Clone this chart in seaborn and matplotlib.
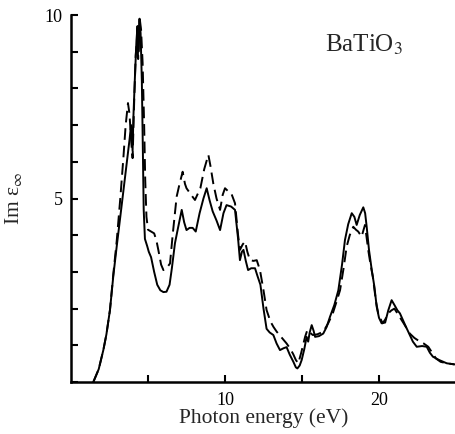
import matplotlib
matplotlib.use("Agg")
import matplotlib.pyplot as plt
import seaborn as sns
import pandas as pd

# solid curve
energy_a = [1.45, 1.8, 2.1, 2.3, 2.53, 2.75, 2.97, 3.2, 3.4, 3.6, 3.8, 3.9, 4.0, 4.05,
            4.15, 4.25, 4.32, 4.38, 4.45, 4.52, 4.6, 4.66, 4.72, 4.8, 4.95, 5.05, 5.2,
            5.4, 5.6, 5.8, 6.0, 6.2, 6.4, 6.55, 6.75, 6.95, 7.19, 7.35, 7.5, 7.7, 7.9,
            8.1, 8.35, 8.6, 8.81, 9.0, 9.2, 9.45, 9.68, 9.9, 10.1, 10.4, 10.65, 10.85,
            10.97, 11.1, 11.2, 11.35, 11.5, 11.7, 11.95, 12.1, 12.3, 12.5, 12.7, 12.9,
            13.14, 13.35, 13.57, 13.8, 14.0, 14.2, 14.44, 14.6, 14.7, 14.85, 14.98,
            15.15, 15.3, 15.4, 15.5, 15.63, 15.75, 15.85, 16.1, 16.38, 16.6, 16.82,
            17.1, 17.36, 17.6, 17.79, 18.0, 18.23, 18.4, 18.55, 18.75, 18.98, 19.1,
            19.2, 19.35, 19.53, 19.7, 19.85, 20.0, 20.17, 20.4, 20.6, 20.82, 21.0,
            21.2, 21.36, 21.7, 22.0, 22.2, 22.45, 22.8, 23.1, 23.3, 23.5, 23.9, 24.4,
            24.9]
im_eps_a = [0.0, 0.35, 0.87, 1.3, 1.96, 2.9, 3.7, 4.5, 5.2, 5.9, 6.6, 7.0, 6.3, 7.2,
            8.3, 9.3, 9.7, 9.0, 9.9, 9.5, 8.2, 6.5, 4.7, 3.9, 3.7, 3.55, 3.4,
            3.0, 2.65, 2.5, 2.45, 2.46, 2.65, 3.1, 3.78, 4.2, 4.69, 4.35, 4.14, 4.2, 4.2,
            4.1, 4.6, 5.0, 5.28, 4.95, 4.65, 4.4, 4.14, 4.6, 4.82, 4.78, 4.69, 3.9,
            3.32, 3.55, 3.6, 3.3, 3.05, 3.1, 3.1, 2.9, 2.65, 2.0, 1.45, 1.35,
            1.28, 1.05, 0.87, 0.92, 0.95, 0.75, 0.55, 0.4, 0.37, 0.45, 0.6,
            0.9, 1.23, 1.1, 1.35, 1.55, 1.4, 1.23, 1.25, 1.32, 1.5, 1.78,
            2.1, 2.5, 3.2, 3.87, 4.3, 4.6, 4.5, 4.28, 4.55, 4.76, 4.6,
            4.23, 3.6, 3.05, 2.6, 2.05, 1.75, 1.6, 1.62, 1.95, 2.23, 2.1,
            1.95, 1.87, 1.55, 1.28, 1.1, 0.96, 0.98, 0.96, 0.8, 0.69, 0.6, 0.51,
            0.48]

# dashed curve
energy_b = [1.45, 1.8, 2.1, 2.3, 2.53, 2.75, 2.97, 3.2, 3.4, 3.55, 3.7, 3.8, 3.9, 4.0,
            4.1, 4.2, 4.3, 4.36, 4.45, 4.55, 4.65, 4.75, 4.82, 4.9, 5.0, 5.2, 5.4,
            5.55, 5.67, 5.85, 6.0, 6.2, 6.43, 6.6, 6.86, 7.05, 7.25, 7.4, 7.5, 7.8,
            8.05, 8.2, 8.4, 8.65, 8.92, 9.05, 9.24, 9.45, 9.68, 9.85, 10.0, 10.2, 10.4,
            10.65, 10.85, 10.97, 11.15, 11.3, 11.45, 11.62, 11.85, 12.06, 12.27, 12.5,
            12.7, 12.95, 13.15, 13.36, 13.7, 14.0, 14.25, 14.44, 14.6, 14.76, 14.95,
            15.2, 15.35, 15.5, 15.7, 16.0, 16.38, 16.7, 17.0, 17.25, 17.47, 17.7, 17.9,
            18.1, 18.33, 18.5, 18.65, 18.87, 19.0, 19.09, 19.3, 19.45, 19.6, 19.8,
            19.95, 20.23, 20.4, 20.6, 20.8, 21.0, 21.3, 21.6, 22.0, 22.3, 22.66, 22.9,
            23.2, 23.45, 23.7, 24.0, 24.4, 24.9]
im_eps_b = [0.0, 0.35, 0.87, 1.3, 1.96, 2.95, 3.85, 5.0, 6.1, 7.0, 7.6, 7.3, 6.6, 6.1,
            7.6, 8.9, 9.4, 8.8, 9.95, 9.6, 8.7, 7.0, 5.5, 4.5, 4.15, 4.1, 4.05,
            3.85, 3.6, 3.2, 3.05, 3.1, 3.23, 4.0, 5.05, 5.4, 5.73, 5.4, 5.28, 5.1,
            4.96, 5.1, 5.28, 5.8, 6.19, 5.9, 5.41, 5.0, 4.69, 5.1, 5.28, 5.2, 5.15,
            4.87, 4.0, 3.6, 3.75, 3.83, 3.55, 3.32, 3.3, 3.32, 3.05, 2.5,
            1.96, 1.65, 1.5, 1.37, 1.2, 1.05, 0.9, 0.75, 0.6, 0.51, 0.8,
            1.23, 1.42, 1.35, 1.28, 1.3, 1.37, 1.6, 1.87, 2.2, 2.5, 3.1, 3.69,
            4.0, 4.23, 4.15, 4.1, 3.96, 4.15, 4.28, 3.6, 3.2, 2.87, 2.2,
            1.87, 1.6, 1.7, 1.87, 1.95, 2.0, 1.8, 1.6, 1.32, 1.2, 1.1, 1.05,
            0.96, 0.8, 0.64, 0.55, 0.51, 0.48]

x_ticks = [5, 10, 15, 20]
x_tick_labels = ["", "10", "", "20"]
y_ticks = list(range(0, 11))
y_tick_labels = ["5" if t == 5 else "10" if t == 10 else "" for t in y_ticks]

df = pd.concat([
    pd.DataFrame({"energy": energy_a, "im_eps": im_eps_a, "kind": "a"}),
    pd.DataFrame({"energy": energy_b, "im_eps": im_eps_b, "kind": "b"}),
], ignore_index=True)

sns.set_style("ticks")
plt.rcParams["font.family"] = ["Liberation Serif", "DejaVu Serif"]
plt.rcParams["mathtext.fontset"] = "stix"

fig = plt.figure(figsize=(4.56, 4.34), dpi=100)
ax = fig.add_axes([0.1557, 0.1198, 0.8443, 0.8456])

sns.lineplot(data=df, x="energy", y="im_eps", style="kind",
             dashes={"a": "", "b": (6, 3)}, color="black", linewidth=1.4,
             estimator=None, sort=False, legend=False, ax=ax)

ax.set_xlim(0, 25)
ax.set_ylim(0, 10)
ax.set_xticks(x_ticks)
ax.set_xticklabels(x_tick_labels)
ax.set_yticks(y_ticks)
ax.set_yticklabels(y_tick_labels)
ax.tick_params(direction="in", length=5, width=1.5, labelsize=13, colors="black")
ax.tick_params(axis="x", pad=7)
ax.tick_params(axis="y", pad=6)
for s in ["left", "bottom"]:
    ax.spines[s].set_linewidth(1.8)
    ax.spines[s].set_color("black")
sns.despine(ax=ax)

ax.set_xlabel("Photon energy (eV)", fontsize=15.5, labelpad=0)
ax.set_ylabel("Im ε$_{\\infty}$", fontsize=15.5)
ax.yaxis.set_label_coords(-0.122, 0.5)

ax.text(16.5, 9.0, "BaTiO$_3$", fontsize=18, ha="left", va="baseline")

fig.savefig("out.png", dpi=100)
